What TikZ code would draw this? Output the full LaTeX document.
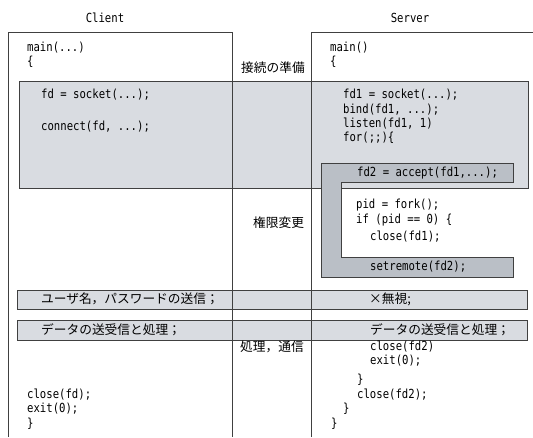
\documentclass[tikz,border=0pt]{standalone}
\usepackage{fontspec}
\newfontfamily\codefont[FakeStretch=0.85]{DejaVu Sans Mono}
\newfontfamily\jpfont{Noto Sans CJK JP}
\definecolor{lightfill}{HTML}{D9DCE1}
\definecolor{darkfill}{HTML}{BABFC6}
\definecolor{edgegray}{HTML}{404040}

\begin{document}
\begin{tikzpicture}[x=1pt,y=-1pt,
    code/.style={anchor=west,inner sep=0pt,font=\codefont\fontsize{12.5}{14}\selectfont},
    jp/.style={anchor=west,inner sep=0pt,font=\jpfont\fontsize{12.7}{14}\selectfont},
    head/.style={inner sep=0pt,font=\codefont\fontsize{12.5}{14}\selectfont},
    bar/.style={draw=edgegray,fill=lightfill,line width=0.8pt},
    frame/.style={draw=edgegray,line width=0.8pt}]
   \useasboundingbox (0,0) rectangle (533,437);
   % shaded blocks
   \path[bar] (19,81) rectangle (528,188);
   \path[bar,fill=darkfill] (321,163) -- (513,163) -- (513,182) -- (341,182) -- (341,257)
      -- (513,257) -- (513,277) -- (321,277) -- cycle;
   \path[bar] (17,290) rectangle (527,309);
   \path[bar] (17,320) rectangle (527,340);
   % client and server frames
   \path[frame] (8,437) -- (8,32) -- (232,32) -- (232,437);
   \path[frame] (311,437) -- (311,32) -- (533,32);
   % headings
   \node[head] (client) at (105,18) {Client};
   \node[head] (server) at (410,18) {Server};
   % client code
   \node[code] (cmain) at (27,48) {main(...)};
   \node[code] (copen) at (27,62) {\{};
   \node[code] (csock) at (41,95) {fd = socket(...);};
   \node[code] (cconn) at (41,127) {connect(fd, ...);};
   \node[code] (cclose) at (27,395) {close(fd);};
   \node[code] (cexit) at (27,409) {exit(0);};
   \node[code] (cend) at (27,424) {\}};
   % server code
   \node[code] (smain) at (330,48) {main()};
   \node[code] (sopen) at (330,62) {\{};
   \node[code] (ssock) at (343,95) {fd1 = socket(...);};
   \node[code] (sbind) at (343,110) {bind(fd1, ...);};
   \node[code] (slisten) at (343,124) {listen(fd1, 1)};
   \node[code] (sfor) at (343,138) {for(;;)\{};
   \node[code] (saccept) at (357,173) {fd2 = accept(fd1,...);};
   \node[code] (sfork) at (356,205) {pid = fork();};
   \node[code] (sif) at (356,220) {if (pid == 0) \{};
   \node[code] (sclose1) at (370,237) {close(fd1);};
   \node[code] (sremote) at (370,267) {setremote(fd2);};
   \node[code] (sclose2) at (370,347) {close(fd2)};
   \node[code] (sexit) at (370,361) {exit(0);};
   \node[code] (sifend) at (357,380) {\}};
   \node[code] (sclose3) at (357,395) {close(fd2);};
   \node[code] (sforend) at (343,409) {\}};
   \node[code] (send) at (331,424) {\}};
   % phase labels
   \node[jp] (prep) at (241,68) {接続の準備};
   \node[jp] (priv) at (253,223) {権限変更};
   \node[jp] (comm) at (240,347) {処理，通信};
   \node[jp] (cuser) at (41,299) {ユーザ名，パスワードの送信；};
   \node[jp] (suser) at (369,299) {×無視;};
   \node[jp] (cdata) at (41,330) {データの送受信と処理；};
   \node[jp] (sdata) at (370,330) {データの送受信と処理；};
\end{tikzpicture}
\end{document}
